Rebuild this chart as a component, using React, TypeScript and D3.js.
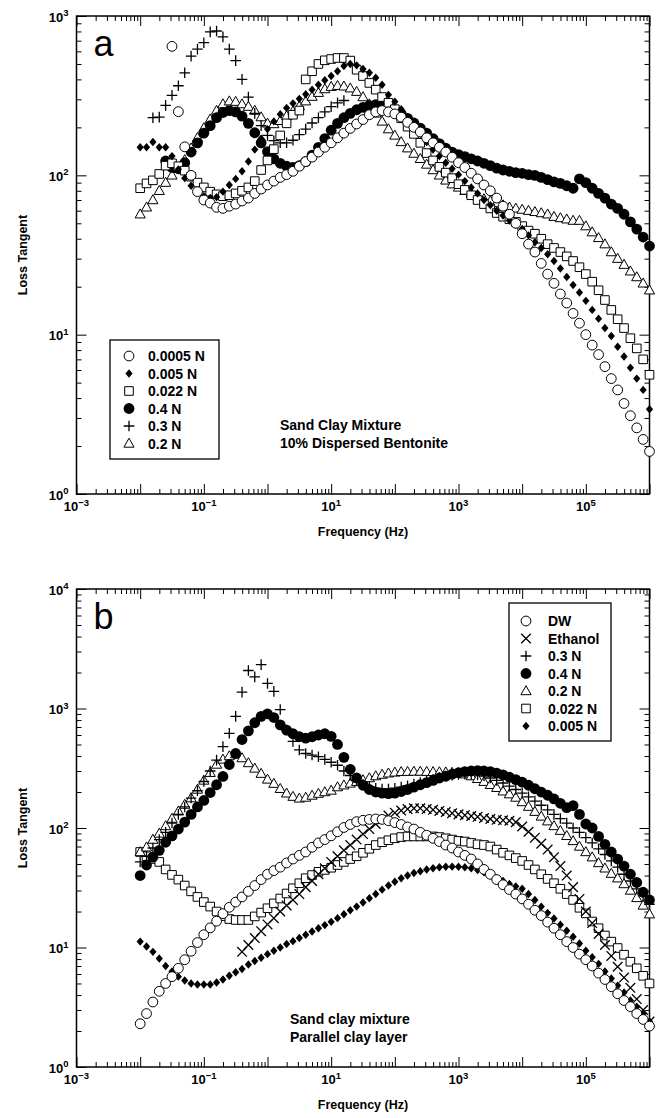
import React, { useEffect, useRef } from 'react';
import * as d3 from 'd3';

// log10 of frequency (Hz): the analyser reads ten points per decade
const LOG_F = [
  -2.0, -1.9, -1.8, -1.7, -1.6, -1.5, -1.4, -1.3, -1.2, -1.1,
  -1.0, -0.9, -0.8, -0.7, -0.6, -0.5, -0.4, -0.3, -0.2, -0.1,
  0.0, 0.1, 0.2, 0.3, 0.4, 0.5, 0.6, 0.7, 0.8, 0.9,
  1.0, 1.1, 1.2, 1.3, 1.4, 1.5, 1.6, 1.7, 1.8, 1.9,
  2.0, 2.1, 2.2, 2.3, 2.4, 2.5, 2.6, 2.7, 2.8, 2.9,
  3.0, 3.1, 3.2, 3.3, 3.4, 3.5, 3.6, 3.7, 3.8, 3.9,
  4.0, 4.1, 4.2, 4.3, 4.4, 4.5, 4.6, 4.7, 4.8, 4.9,
  5.0, 5.1, 5.2, 5.3, 5.4, 5.5, 5.6, 5.7, 5.8, 5.9,
  6.0,
];

// (a) sand clay mixture, 10% dispersed bentonite -- loss tangent
const A_0005N = [ // from 10^-1.5
  645, 251, 151, 100, 79, 70, 67, 63, 62, 64,
  66, 69, 72, 77, 82, 87, 92, 97, 101, 106,
  114, 122, 130, 140, 150, 160, 172, 184, 197, 210,
  224, 240, 250, 255, 250, 243, 232, 215, 200, 187,
  172, 160, 150, 140, 130, 120, 112, 103, 95, 87,
  80, 72, 64, 57, 50, 43, 37, 33, 28, 24,
  21, 18, 15.8, 13.6, 11.8, 10, 8.6, 7.5, 6.3, 5.3,
  4.5, 3.7, 3.1, 2.6, 2.2, 1.85,
];
const A_005N = [ // from 10^-2
  150, 150, 162, 150, 150, 132, 109, 96, 86, 78,
  74, 72, 73, 79, 87, 95, 106, 122, 145, 170,
  195, 218, 242, 265, 283, 302, 323, 345, 370, 395,
  420, 450, 485, 500, 490, 465, 440, 410, 370, 320,
  290, 260, 232, 205, 182, 162, 145, 132, 120, 110,
  101, 92, 84, 77, 70, 65, 60, 56, 52, 49,
  46, 42, 38, 35, 32, 29, 26, 23, 20.5, 18.4,
  16.3, 14.3, 12.6, 11, 9.8, 8.4, 7.3, 6.2, 5.3, 4.5,
  3.4,
];
const A_022N = [ // from 10^-2
  83, 89, 93, 102, 115, 119, 114, 107, 98, 90,
  84, 79, 76, 74, 75, 77, 80, 84, 92, 108,
  124, 146, 178, 212, 240, 255, 400, 450, 500, 527,
  537, 545, 545, 525, 460, 420, 380, 345, 310, 285,
  260, 228, 202, 182, 160, 138, 124, 113, 104, 96,
  88, 81, 75, 70, 66, 62, 58, 55, 53, 51,
  48, 45, 43, 40, 37, 35, 33, 31, 29, 26.5,
  24, 21.5, 19, 16.5, 14.3, 12.5, 11, 9.5, 8.2, 7,
  5.6,
];
const A_04N = [ // from 10^-1.6
  123, 112, 110, 120, 140, 160, 184, 205, 230, 248,
  255, 250, 235, 212, 185, 160, 141, 127, 119, 114,
  112, 115, 122, 134, 150, 170, 192, 212, 230, 245,
  258, 267, 274, 278, 276, 268, 257, 243, 228, 213,
  198, 184, 170, 158, 148, 140, 135, 131, 127, 123,
  119, 115, 111, 108, 106, 104, 103, 101, 100, 97,
  94, 91, 89, 86, 83, 95, 90, 83, 77, 72,
  66, 62, 57, 51, 46, 41, 36,
];
const A_03N = [ // from 10^-1.8
  230, 232, 275, 318, 365, 440, 560, 620, 680, 795,
  805, 740, 620, 525, 400, 310, 245, 205, 178, 165,
  160, 160, 166, 180, 195, 213, 230, 250, 270, 285,
  295,
];
const A_02N = [ // from 10^-2
  57, 63, 70, 80, 90, 100, 110, 125, 148, 172,
  198, 225, 255, 280, 292, 290, 280, 270, 255, 232,
  212, 210, 220, 236, 252, 272, 292, 312, 330, 348,
  360, 365, 362, 352, 335, 310, 280, 245, 218, 195,
  178, 162, 148, 137, 127, 117, 108, 100, 93, 88,
  84, 80, 77, 74, 71, 69, 67, 65, 63, 62,
  61, 60, 59, 58, 57, 55, 54, 53, 52, 52,
  48, 44, 40.5, 37, 33, 30, 27.5, 25, 23, 21,
  19,
];

// (b) sand clay mixture, parallel clay layer -- loss tangent
const B_DW = [ // from 10^-2
  2.3, 2.8, 3.5, 4.3, 5.0, 5.7, 6.7, 7.9, 9.3, 11,
  12.8, 14.6, 16.6, 19.2, 21.7, 24, 26.5, 29.5, 33, 37,
  41, 44, 47, 51, 55, 59, 63, 69, 75, 80,
  86, 93, 101, 107, 113, 116, 118, 119, 118, 115,
  111, 107, 102, 98, 92, 87, 82, 77, 72, 68,
  63, 59, 55, 50, 45, 41, 37, 33.5, 30.5, 28,
  25.5, 23, 20.5, 18.5, 16.3, 14.5, 12.8, 11.2, 10, 8.8,
  7.9, 7.0, 6.1, 5.4, 4.7, 4.1, 3.6, 3.2, 2.8, 2.5,
  2.2,
];
const B_ETHANOL = [ // from 10^-0.4
  9.2, 10.5, 12, 13.7, 15.6, 17.6, 20, 22.5, 25, 28,
  32, 36, 41, 46, 52, 58, 65, 72, 80, 89,
  98, 108, 118, 127, 134, 140, 144, 146, 146, 144,
  142, 139, 136, 133, 130, 128, 126, 124, 121, 119,
  117, 116, 115, 112, 103, 93, 83, 74, 66, 57,
  48, 40, 32, 25.5, 20, 16, 13, 10.5, 8.5, 6.9,
  5.6, 4.6, 3.7, 3.0, 2.4,
];
const B_03N = [ // from 10^-2
  52, 58, 68, 80, 92, 110, 130, 150, 178, 205,
  245, 300, 370, 480, 620, 860, 1370, 2080, 1840, 2330,
  1620, 1390, 980, 660, 530, 450, 420, 408, 395, 375,
  355, 335, 300, 275, 250, 232, 222, 215, 212, 212,
  215, 220, 226, 233, 240, 248, 256, 264, 270, 276,
  280, 282, 282, 278, 272, 262, 250, 238, 224, 210,
  196, 182, 168, 155, 142, 130, 120, 110, 100, 92,
  83, 75, 67, 60, 53, 47, 41, 36, 31, 27,
  23,
];
const B_04N = [ // from 10^-2
  40, 49, 57, 65, 76, 86, 98, 112, 130, 150,
  170, 198, 230, 270, 340, 420, 550, 650, 760, 860,
  900, 840, 730, 660, 615, 580, 565, 580, 600, 615,
  585, 500, 390, 310, 262, 228, 210, 200, 196, 194,
  196, 202, 210, 220, 230, 240, 250, 262, 272, 282,
  290, 296, 300, 302, 300, 296, 288, 278, 266, 254,
  242, 228, 213, 200, 188, 175, 161, 148, 154, 130,
  108, 100, 85, 73, 63, 55, 48, 41, 35, 29,
  25,
];
const B_02N = [ // from 10^-2
  63, 69, 80, 90, 104, 120, 138, 157, 178, 210,
  250, 290, 340, 375, 400, 415, 385, 350, 315, 285,
  255, 235, 213, 195, 183, 177, 180, 187, 194, 200,
  206, 220, 228, 236, 244, 252, 262, 272, 280, 287,
  292, 295, 296, 297, 297, 296, 295, 294, 293, 291,
  288, 282, 272, 258, 244, 230, 217, 203, 192, 180,
  165, 151, 137, 125, 114, 104, 95, 86, 78, 70,
  63, 57, 51, 46, 41.5, 38, 34, 30, 26, 22.5,
  19,
];
const B_022N = [ // from 10^-2
  63, 58, 55, 52, 45, 40.5, 37, 33, 29.5, 26.5,
  24, 22, 20, 18.3, 17.3, 17, 17, 17, 18.2, 19.6,
  21.3, 23.4, 25.7, 28.3, 31.3, 34.5, 38, 40.4, 43, 44.6,
  46.5, 49, 52, 55, 58, 62, 67, 72, 76, 79,
  82, 84, 85, 85, 85, 85, 85, 84, 82, 80,
  78, 77, 75, 73, 72, 70, 66, 62, 59, 56,
  53, 49, 45, 41, 37.5, 34.5, 31, 28, 25, 21.5,
  19.3, 16.5, 14.5, 12.6, 11.2, 9.9, 8.7, 7.6, 6.7, 5.8,
  5.0,
];
const B_005N = [ // from 10^-2
  11.2, 10.2, 9.2, 8.1, 7.0, 6.3, 5.7, 5.3, 5.0, 4.9,
  4.9, 4.9, 5.1, 5.4, 5.8, 6.2, 6.6, 7.2, 7.7, 8.2,
  8.8, 9.4, 10.0, 10.7, 11.3, 12.0, 12.8, 13.6, 14.5, 15.4,
  16.4, 17.6, 19.0, 20.5, 22, 23.8, 25.8, 28, 30.5, 33,
  35.5, 38, 40, 42, 43.5, 45, 46, 47, 47.4, 47.5,
  47.4, 47, 46, 44.5, 42.5, 40, 38, 36, 34, 32.5,
  31, 28, 25, 22, 19.5, 17.5, 15.5, 13.8, 12.3, 10.8,
  9.4, 8.3, 7.3, 6.3, 5.5, 4.8, 4.2, 3.6, 3.2, 2.8,
  2.4,
];

const FONT = '"Liberation Sans", Arial, Helvetica, sans-serif';
const LEFT = 76.5;
const RIGHT = 649.5;

const circlePath = (r) => d3.symbol().type(d3.symbolCircle).size(Math.PI * r * r)();

const SHAPES = {
  circle: { d: circlePath(4.9), fill: '#fff', stroke: '#000', sw: 1 },
  disc: { d: circlePath(5.4), fill: '#000', stroke: 'none', sw: 0 },
  square: { d: 'M-4.3,-4.3H4.3V4.3H-4.3Z', fill: '#fff', stroke: '#000', sw: 1 },
  diamond: { d: 'M0,-4.2L3.6,0L0,4.2L-3.6,0Z', fill: '#000', stroke: 'none', sw: 0 },
  triangle: { d: 'M0,-5.3L5.1,3.7H-5.1Z', fill: '#fff', stroke: '#000', sw: 1 },
  plus: { d: 'M-5.3,0H5.3M0,-5.3V5.3', fill: 'none', stroke: '#000', sw: 1.3 },
  cross: { d: 'M-4.8,-4.8L4.8,4.8M-4.8,4.8L4.8,-4.8', fill: 'none', stroke: '#000', sw: 1.3 },
};

const PANELS = [
  {
    letter: 'a', top: 16, bottom: 494, yExp: 3,
    series: [
      { label: '0.0005 N', shape: 'circle', from: -1.5, values: A_0005N },
      { label: '0.005 N', shape: 'diamond', from: -2.0, values: A_005N },
      { label: '0.022 N', shape: 'square', from: -2.0, values: A_022N },
      { label: '0.4 N', shape: 'disc', from: -1.6, values: A_04N },
      { label: '0.3 N', shape: 'plus', from: -1.8, values: A_03N },
      { label: '0.2 N', shape: 'triangle', from: -2.0, values: A_02N },
    ],
    legend: { x: 110, y: 340, w: 109, h: 119, row0: 356, symX: 129, textX: 148 },
    note: ['Sand Clay Mixture', '10% Dispersed Bentonite'],
    noteX: 280, noteY: 430,
  },
  {
    letter: 'b', top: 589, bottom: 1067, yExp: 4,
    series: [
      { label: 'DW', shape: 'circle', from: -2.0, values: B_DW },
      { label: 'Ethanol', shape: 'cross', from: -0.4, values: B_ETHANOL },
      { label: '0.3 N', shape: 'plus', from: -2.0, values: B_03N },
      { label: '0.4 N', shape: 'disc', from: -2.0, values: B_04N },
      { label: '0.2 N', shape: 'triangle', from: -2.0, values: B_02N },
      { label: '0.022 N', shape: 'square', from: -2.0, values: B_022N },
      { label: '0.005 N', shape: 'diamond', from: -2.0, values: B_005N },
    ],
    legend: { x: 509, y: 603, w: 102, h: 138, row0: 621, symX: 526, textX: 548 },
    note: ['Sand clay mixture', 'Parallel clay layer'],
    noteX: 290, noteY: 1024,
  },
];

function powLabel(text, e) {
  text.append('tspan').text('10');
  text.append('tspan').attr('dy', -5.5).attr('font-size', 9.5).text(e < 0 ? `\u2212${-e}` : `${e}`);
}

function drawMarker(g, shape, tx, ty) {
  const s = SHAPES[shape];
  g.append('path')
    .attr('d', s.d)
    .attr('transform', `translate(${tx},${ty})`)
    .attr('fill', s.fill)
    .attr('stroke', s.stroke)
    .attr('stroke-width', s.sw);
}

function drawPanel(svg, p) {
  const x = d3.scaleLog().domain([1e-3, 1e6]).range([LEFT, RIGHT]);
  const y = d3.scaleLog().domain([1, 10 ** p.yExp]).range([p.bottom, p.top]);
  const g = svg.append('g');

  // tick positions
  const majorX = d3.range(-3, 7).map((e) => 10 ** e);
  const minorX = [];
  for (let e = -3; e < 6; e++) for (let k = 2; k < 10; k++) minorX.push(k * 10 ** e);
  const majorY = d3.range(0, p.yExp + 1).map((e) => 10 ** e);
  const minorY = [];
  for (let e = 0; e < p.yExp; e++) for (let k = 2; k < 10; k++) minorY.push(k * 10 ** e);

  // all ticks point into the frame
  const axes = [
    [d3.axisTop(x), `translate(0,${p.bottom})`, minorX, majorX],
    [d3.axisBottom(x), `translate(0,${p.top})`, minorX, majorX],
    [d3.axisRight(y), `translate(${LEFT},0)`, minorY, majorY],
    [d3.axisLeft(y), `translate(${RIGHT},0)`, minorY, majorY],
  ];
  axes.forEach(([axis, tr, minor, major]) => {
    [[minor, 5], [major, 10]].forEach(([vals, size]) => {
      const a = g.append('g').attr('transform', tr)
        .call(axis.tickValues(vals).tickSize(size).tickFormat(() => ''));
      a.select('.domain').remove();
      a.selectAll('line').attr('stroke', '#000').attr('stroke-width', 1);
      a.selectAll('text').remove();
    });
  });

  g.append('rect')
    .attr('x', LEFT).attr('y', p.top)
    .attr('width', RIGHT - LEFT).attr('height', p.bottom - p.top)
    .attr('fill', 'none').attr('stroke', '#000').attr('stroke-width', 1.5);

  // tick labels
  [-3, -1, 1, 3, 5].forEach((e) => {
    const t = g.append('text')
      .attr('x', x(10 ** e)).attr('y', p.bottom + 17)
      .attr('text-anchor', 'middle').attr('font-size', 13).attr('font-weight', 'bold')
      .attr('font-family', FONT);
    powLabel(t, e);
  });
  d3.range(0, p.yExp + 1).forEach((e) => {
    const t = g.append('text')
      .attr('x', LEFT - 8).attr('y', y(10 ** e) + 5.5)
      .attr('text-anchor', 'end').attr('font-size', 13).attr('font-weight', 'bold')
      .attr('font-family', FONT);
    powLabel(t, e);
  });

  // axis titles
  const mid = (p.top + p.bottom) / 2;
  g.append('text')
    .attr('transform', `translate(26.5,${mid}) rotate(-90)`)
    .attr('text-anchor', 'middle').attr('font-size', 12.5).attr('font-weight', 'bold')
    .attr('font-family', FONT).text('Loss Tangent');
  g.append('text')
    .attr('x', (LEFT + RIGHT) / 2).attr('y', p.bottom + 41.5)
    .attr('text-anchor', 'middle').attr('font-size', 12.5).attr('font-weight', 'bold')
    .attr('font-family', FONT).text('Frequency (Hz)');

  // panel letter
  g.append('text')
    .attr('x', 93.5).attr('y', p.top + 39.5)
    .attr('font-size', 36).attr('font-family', FONT).text(p.letter);

  // note
  p.note.forEach((line, i) => {
    g.append('text')
      .attr('x', p.noteX).attr('y', p.noteY + i * 18)
      .attr('font-size', 14).attr('font-weight', 'bold').attr('font-family', FONT)
      .text(line);
  });

  // data markers, last legend entry drawn first
  const marks = g.append('g');
  const i0 = (from) => LOG_F.indexOf(from);
  p.series.slice().reverse().forEach((s) => {
    const start = i0(s.from);
    s.values.forEach((v, i) => {
      drawMarker(marks, s.shape, x(10 ** LOG_F[start + i]), y(v));
    });
  });

  // legend
  const L = p.legend;
  g.append('rect')
    .attr('x', L.x).attr('y', L.y).attr('width', L.w).attr('height', L.h)
    .attr('fill', '#fff').attr('stroke', '#000').attr('stroke-width', 1.3);
  p.series.forEach((s, i) => {
    const ry = L.row0 + i * 17.5;
    drawMarker(g, s.shape, L.symX, ry);
    g.append('text')
      .attr('x', L.textX).attr('y', ry + 5)
      .attr('font-size', 14).attr('font-weight', 'bold').attr('font-family', FONT)
      .text(s.label);
  });
}

export default function App() {
  const ref = useRef(null);

  useEffect(() => {
    const svg = d3.select(ref.current);
    svg.selectAll('*').remove();
    svg.append('rect').attr('width', 662).attr('height', 1118).attr('fill', '#fff');
    PANELS.forEach((p) => drawPanel(svg, p));
  }, []);

  return (
    <svg
      ref={ref}
      width={662}
      height={1118}
      style={{ position: 'absolute', left: 0, top: 0, display: 'block' }}
    />
  );
}
